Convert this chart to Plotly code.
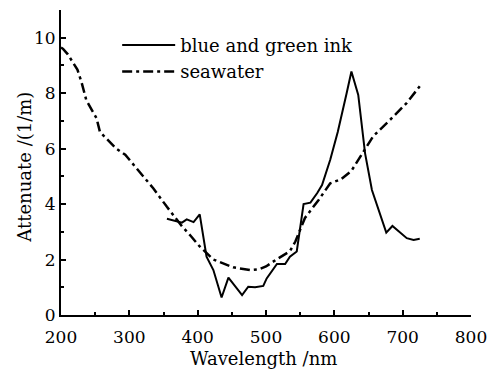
import plotly.graph_objects as go

# seawater (dash-dot)
sea_x = [200, 203, 210, 218, 224, 230, 233, 237, 245, 252, 257, 265, 281, 294, 310, 335, 355, 377, 390, 403, 423, 452, 477, 490, 500, 515, 535, 543, 557, 577, 594, 610, 625, 638, 657, 682, 706, 725]
sea_y = [9.65, 9.6, 9.4, 9.1, 8.85, 8.4, 8.1, 7.75, 7.4, 7.1, 6.6, 6.4, 6.0, 5.78, 5.3, 4.57, 3.9, 3.2, 2.85, 2.47, 2.0, 1.72, 1.62, 1.65, 1.75, 2.0, 2.3, 2.65, 3.5, 4.15, 4.75, 4.9, 5.2, 5.7, 6.45, 7.05, 7.65, 8.25]

# blue and green ink (solid)
ink_x = [355, 377, 384, 394, 403, 413, 423, 435, 445, 465, 474, 484, 496, 501, 516, 528, 535, 545, 555, 565, 575, 582, 594, 605, 618, 625, 635, 645, 655, 667, 676, 685, 706, 716, 725]
ink_y = [3.47, 3.33, 3.45, 3.35, 3.63, 2.1, 1.62, 0.63, 1.35, 0.72, 1.02, 1.0, 1.05, 1.32, 1.84, 1.84, 2.1, 2.29, 4.0, 4.05, 4.4, 4.69, 5.6, 6.6, 8.0, 8.78, 7.94, 5.83, 4.51, 3.6, 2.97, 3.21, 2.77, 2.71, 2.75]

x_ticks = [200, 300, 400, 500, 600, 700, 800]
y_ticks = [0, 2, 4, 6, 8, 10]

FONT = "DejaVu Serif"

fig = go.Figure()
fig.add_trace(go.Scatter(x=ink_x, y=ink_y, mode="lines", name="blue and green ink",
                         line=dict(color="black", width=2)))
fig.add_trace(go.Scatter(x=sea_x, y=sea_y, mode="lines", name="seawater",
                         line=dict(color="black", width=2.5, dash="10px,4px,3px,4px")))

axis_common = dict(showgrid=False, zeroline=False, showline=True, linecolor="black", linewidth=2,
                   ticks="inside", ticklen=5, tickwidth=2, tickcolor="black",
                   tickfont=dict(family=FONT, size=17, color="black"))
fig.update_xaxes(range=[200, 800], tickvals=x_ticks, ticktext=[str(v) for v in x_ticks],
                 ticklabelstandoff=6,
                 minor=dict(ticks="inside", ticklen=3, tickwidth=2, tickcolor="black", dtick=50, tick0=200),
                 **axis_common)
fig.update_yaxes(range=[0, 11], tickvals=y_ticks, ticktext=[str(v) for v in y_ticks],
                 minor=dict(ticks="inside", ticklen=3, tickwidth=2, tickcolor="black", dtick=1, tick0=0),
                 **axis_common)

fig.add_annotation(text="Wavelength /nm", xref="paper", yref="paper", x=0.495, y=-0.141,
                   xanchor="center", yanchor="middle", showarrow=False,
                   font=dict(family=FONT, size=18, color="black"))
fig.add_annotation(text="Attenuate /(1/m)", xref="paper", yref="paper", x=-0.088, y=0.486,
                   xanchor="center", yanchor="middle", textangle=-90, showarrow=False,
                   font=dict(family=FONT, size=18, color="black"))

# page body has an 8px default margin, so offset the plot area accordingly
fig.update_layout(width=503, height=371, margin=dict(l=53, r=40, t=2, b=64),
                  paper_bgcolor="white", plot_bgcolor="white", showlegend=True,
                  legend=dict(x=0.137, y=0.945, xanchor="left", yanchor="top",
                              bgcolor="rgba(0,0,0,0)", font=dict(family=FONT, size=18, color="black"),
                              tracegroupgap=0, itemwidth=53))

fig.write_html("out.html")
